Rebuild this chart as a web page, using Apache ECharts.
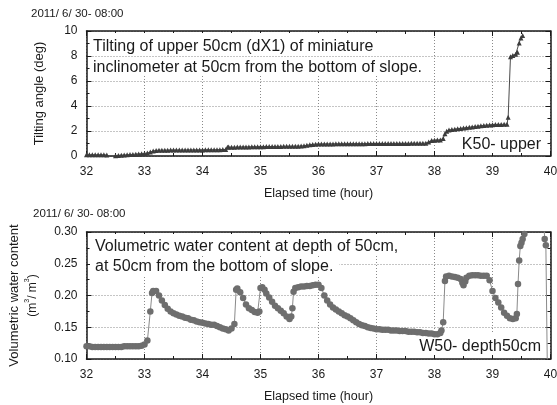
<!DOCTYPE html>
<html>
<head>
<meta charset="utf-8">
<script src="https://cdn.jsdelivr.net/npm/echarts@6/dist/echarts.min.js"></script>
<style>
  html, body { margin: 0; padding: 0; background: #fff; }
  #chart { width: 557px; height: 405px; }
</style>
</head>
<body>
<div id="chart"></div>
<script>
// elapsed hours since 2011/6/30 08:00
const timeRange = [32, 40]
const tiltRange = [0, 10]
const waterRange = [0.10, 0.30]
const startLabel = '2011/ 6/ 30- 08:00'

// tilting angle (deg), K50- upper
const k50Upper = [
  [32.00, 0.10], [32.05, 0.10], [32.10, 0.11], [32.15, 0.10], [32.20, 0.10], [32.25, 0.10], [32.30, 0.10], [32.35, 0.08],
  [32.40, -0.10], [32.45, -0.10],
  [32.50, 0.02], [32.55, 0.05], [32.60, 0.07], [32.65, 0.08], [32.70, 0.10], [32.75, 0.12], [32.80, 0.13], [32.85, 0.15],
  [32.90, 0.17], [32.95, 0.18], [33.00, 0.20], [33.05, 0.24], [33.10, 0.32], [33.15, 0.40], [33.20, 0.45], [33.25, 0.47],
  [33.30, 0.47], [33.35, 0.47], [33.40, 0.47], [33.45, 0.48], [33.50, 0.48], [33.55, 0.48], [33.60, 0.48], [33.65, 0.48],
  [33.70, 0.48], [33.75, 0.49], [33.80, 0.49], [33.85, 0.49], [33.90, 0.49], [33.95, 0.49], [34.00, 0.49], [34.05, 0.50],
  [34.10, 0.50], [34.15, 0.50], [34.20, 0.50], [34.25, 0.51], [34.30, 0.51], [34.35, 0.52], [34.40, 0.52],
  [34.43, 0.70], [34.45, 0.72], [34.50, 0.71], [34.55, 0.70], [34.60, 0.72], [34.65, 0.72], [34.70, 0.73], [34.75, 0.73],
  [34.80, 0.73], [34.85, 0.74], [34.90, 0.74], [34.95, 0.74], [35.00, 0.75], [35.05, 0.75], [35.10, 0.76], [35.15, 0.76],
  [35.20, 0.76], [35.25, 0.77], [35.30, 0.77], [35.35, 0.77], [35.40, 0.78], [35.45, 0.78], [35.50, 0.78], [35.55, 0.78],
  [35.60, 0.79], [35.65, 0.79], [35.70, 0.80], [35.75, 0.82], [35.80, 0.86], [35.85, 0.90], [35.90, 0.93], [35.95, 0.95],
  [36.00, 0.96], [36.05, 0.96], [36.10, 0.97], [36.15, 0.97], [36.20, 0.97], [36.25, 0.97], [36.30, 0.98], [36.35, 0.98],
  [36.40, 0.98], [36.45, 0.98], [36.50, 0.98], [36.55, 0.99], [36.60, 0.99], [36.65, 0.99], [36.70, 0.99], [36.75, 0.99],
  [36.80, 0.99], [36.85, 1.00], [36.90, 1.00], [36.95, 1.00], [37.00, 1.00], [37.05, 1.00], [37.10, 1.00], [37.15, 1.00],
  [37.20, 1.01], [37.25, 1.01], [37.30, 1.01], [37.35, 1.01], [37.40, 1.01], [37.45, 1.01], [37.50, 1.01], [37.55, 1.01],
  [37.60, 1.02], [37.65, 1.02], [37.70, 1.02], [37.75, 1.02], [37.80, 1.02], [37.85, 1.03],
  [37.90, 1.12], [37.95, 1.25], [38.00, 1.27], [38.05, 1.28], [38.10, 1.29], [38.15, 1.40], [38.18, 1.78], [38.21, 1.98],
  [38.25, 2.08], [38.30, 2.12], [38.35, 2.15], [38.40, 2.18], [38.45, 2.21], [38.50, 2.24], [38.55, 2.27], [38.60, 2.30],
  [38.65, 2.33], [38.70, 2.36], [38.75, 2.39], [38.80, 2.42], [38.85, 2.45], [38.90, 2.47], [38.95, 2.49], [39.00, 2.51],
  [39.05, 2.52], [39.10, 2.53], [39.15, 2.53], [39.20, 2.54], [39.25, 2.54],
  [39.27, 3.10], [39.31, 7.95], [39.35, 8.05], [39.40, 8.15], [39.43, 8.30], [39.46, 9.05], [39.49, 9.45], [39.52, 9.65]
]

// volumetric water content (m3/m3), W50- depth50cm
const w50Depth = [
  [32.00, 0.120], [32.05, 0.120], [32.10, 0.119], [32.15, 0.119], [32.20, 0.119], [32.25, 0.119], [32.30, 0.119],
  [32.35, 0.119], [32.40, 0.119], [32.45, 0.119], [32.50, 0.119], [32.55, 0.119], [32.60, 0.119], [32.65, 0.120],
  [32.70, 0.120], [32.75, 0.120], [32.80, 0.120], [32.85, 0.120], [32.90, 0.120], [32.95, 0.121], [33.00, 0.123],
  [33.05, 0.129], [33.10, 0.175], [33.13, 0.204], [33.15, 0.207], [33.20, 0.207], [33.25, 0.200], [33.30, 0.192],
  [33.35, 0.185], [33.40, 0.179], [33.45, 0.175], [33.50, 0.172], [33.55, 0.170], [33.60, 0.168], [33.65, 0.167],
  [33.70, 0.165], [33.75, 0.164], [33.80, 0.162], [33.85, 0.161], [33.90, 0.159], [33.95, 0.158], [34.00, 0.157],
  [34.05, 0.156], [34.10, 0.155], [34.15, 0.154], [34.20, 0.154], [34.25, 0.152], [34.30, 0.150], [34.35, 0.148],
  [34.40, 0.147], [34.45, 0.145], [34.50, 0.148], [34.55, 0.155],
  [34.58, 0.209], [34.60, 0.211], [34.65, 0.205], [34.70, 0.196], [34.75, 0.186], [34.80, 0.180], [34.85, 0.177],
  [34.90, 0.174], [34.95, 0.173], [34.98, 0.175],
  [35.00, 0.212], [35.03, 0.213], [35.07, 0.209], [35.10, 0.203], [35.15, 0.197], [35.20, 0.190], [35.25, 0.184],
  [35.30, 0.180], [35.35, 0.176], [35.40, 0.172], [35.45, 0.167], [35.50, 0.163], [35.53, 0.167], [35.55, 0.180],
  [35.57, 0.206], [35.60, 0.212], [35.65, 0.213], [35.70, 0.214], [35.75, 0.214], [35.80, 0.215], [35.85, 0.215],
  [35.90, 0.216], [35.95, 0.217], [36.00, 0.217], [36.05, 0.212], [36.10, 0.200], [36.15, 0.192], [36.20, 0.186],
  [36.25, 0.181], [36.30, 0.178], [36.35, 0.175], [36.40, 0.172], [36.45, 0.169], [36.50, 0.167], [36.55, 0.164],
  [36.60, 0.161], [36.65, 0.158], [36.70, 0.155], [36.75, 0.153], [36.80, 0.152], [36.85, 0.150], [36.90, 0.149],
  [36.95, 0.148], [37.00, 0.147], [37.05, 0.147], [37.10, 0.146], [37.15, 0.146], [37.20, 0.146], [37.25, 0.145],
  [37.30, 0.145], [37.35, 0.145], [37.40, 0.144], [37.45, 0.144], [37.50, 0.144], [37.55, 0.143], [37.60, 0.143],
  [37.65, 0.143], [37.70, 0.142], [37.75, 0.142], [37.80, 0.141], [37.85, 0.141], [37.90, 0.140], [37.95, 0.140],
  [38.00, 0.139], [38.05, 0.139], [38.10, 0.141], [38.12, 0.145], [38.15, 0.158],
  [38.18, 0.223], [38.20, 0.230], [38.25, 0.231], [38.30, 0.230], [38.35, 0.229], [38.40, 0.228], [38.45, 0.226],
  [38.48, 0.220], [38.50, 0.216], [38.53, 0.222], [38.55, 0.228], [38.60, 0.231], [38.65, 0.232], [38.70, 0.232],
  [38.75, 0.232], [38.80, 0.231], [38.85, 0.231], [38.90, 0.231], [38.95, 0.224], [39.00, 0.207], [39.05, 0.196],
  [39.10, 0.189], [39.15, 0.181], [39.20, 0.173], [39.25, 0.168], [39.30, 0.164], [39.35, 0.163], [39.40, 0.164],
  [39.42, 0.171], [39.44, 0.218], [39.46, 0.255], [39.48, 0.278], [39.50, 0.283], [39.52, 0.289], [39.55, 0.297],
  [39.58, 0.320], [39.88, 0.320], [39.90, 0.289], [39.92, 0.279], [39.95, 0.050]
]

const FONT = '"Liberation Sans", Arial, sans-serif'
const INK = '#1a1a1a'

const chart = echarts.init(document.getElementById('chart'), null, { renderer: 'canvas' })

function frameAxis(extra) {
  return Object.assign({
    type: 'value',
    axisLine: { show: true, onZero: false, lineStyle: { color: INK, width: 1.5 } },
    axisTick: { show: true, inside: true, length: 5, lineStyle: { color: INK } },
    minorTick: { show: true, splitNumber: 2, length: 3, lineStyle: { color: INK } },
    splitLine: { show: false },
    axisLabel: { show: false }
  }, extra)
}

const gridLine = { show: true, lineStyle: { color: '#8a8a8a', width: 1, type: [1, 2] } }
const tickLabel = { show: true, color: INK, fontFamily: FONT, fontSize: 12, showMinLabel: true, showMaxLabel: true }
const nameStyle = { color: INK, fontFamily: FONT, fontSize: 12.5 }

function xAxes(gi) {
  const range = { gridIndex: gi, min: timeRange[0], max: timeRange[1], interval: 1 }
  return [
    frameAxis(Object.assign({
      position: 'bottom', name: 'Elapsed time (hour)', nameLocation: 'middle', nameGap: 31,
      nameTextStyle: nameStyle,
      axisLabel: Object.assign({}, tickLabel, { margin: 10 }),
      splitLine: gridLine
    }, range)),
    frameAxis(Object.assign({ position: 'top' }, range))
  ]
}

// annotation lines sit on white boxes that hide the grid behind them
function note(text, pos, pad) {
  return Object.assign({
    type: 'text', z: 1,
    style: {
      text: text, fill: INK, font: '16px ' + FONT,
      backgroundColor: '#fff', padding: pad
    }
  }, pos)
}

const option = {
  animation: false,
  backgroundColor: '#fff',
  grid: [
    { left: 86.5, right: 6.5, top: 31, height: 125, outerBoundsMode: 'none' },
    { left: 86.5, right: 6.5, top: 232, height: 127, outerBoundsMode: 'none' }
  ],
  xAxis: xAxes(0).concat(xAxes(1)),
  yAxis: [
    frameAxis({
      gridIndex: 0, position: 'left', min: tiltRange[0], max: tiltRange[1], interval: 2,
      name: 'Tilting angle (deg)', nameLocation: 'middle', nameGap: 41,
      nameTextStyle: Object.assign({}, nameStyle, { fontSize: 13 }),
      axisLabel: Object.assign({}, tickLabel, { margin: 9 }),
      splitLine: gridLine
    }),
    frameAxis({ gridIndex: 0, position: 'right', min: tiltRange[0], max: tiltRange[1], interval: 2 }),
    frameAxis({
      gridIndex: 1, position: 'left', min: waterRange[0], max: waterRange[1], interval: 0.05,
      name: 'Volumetric water content\n{u|(m}{s|3}{u|/ m}{s|3}{u|)}', nameLocation: 'middle', nameGap: 45,
      nameTextStyle: Object.assign({}, nameStyle, {
        fontSize: 13, lineHeight: 18,
        rich: {
          u: { fontFamily: FONT, fontSize: 12, color: INK },
          s: { fontFamily: FONT, fontSize: 7, color: INK, verticalAlign: 'top' }
        }
      }),
      axisLabel: Object.assign({}, tickLabel, { margin: 9, formatter: v => v.toFixed(2) }),
      splitLine: gridLine
    }),
    frameAxis({ gridIndex: 1, position: 'right', min: waterRange[0], max: waterRange[1], interval: 0.05 })
  ],
  graphic: [
    { type: 'text', left: 31, top: 8, style: { text: startLabel, fill: INK, font: '11.5px ' + FONT } },
    { type: 'text', left: 33, top: 208, style: { text: startLabel, fill: INK, font: '11.5px ' + FONT } },
    note('Tilting of upper 50cm (dX1) of miniature', { left: 90, top: 33 }, [6, 6, 1, 3]),
    note('inclinometer at 50cm from the bottom of slope.', { left: 90, top: 58 }, [2, 6, 0, 3]),
    note('K50- upper', { right: 12, top: 132 }, [5, 4, 0, 6]),
    note('Volumetric water content at depth of 50cm,', { left: 90, top: 234 }, [5, 6, 1, 5]),
    note('at 50cm from the bottom of slope.', { left: 90, top: 258 }, [1, 6, 0, 5]),
    note('W50- depth50cm', { right: 12, top: 334 }, [5, 4, 0, 6])
  ],
  series: [
    {
      name: 'K50- upper', type: 'line', xAxisIndex: 0, yAxisIndex: 0,
      data: k50Upper, clip: true,
      symbol: 'triangle', symbolSize: 5,
      itemStyle: { color: '#3c3c3c' },
      lineStyle: { color: '#4a4a4a', width: 1 }
    },
    {
      name: 'W50- depth50cm', type: 'line', xAxisIndex: 2, yAxisIndex: 2,
      data: w50Depth, clip: true,
      symbol: 'circle', symbolSize: 6.5,
      itemStyle: { color: '#6e6e6e' },
      lineStyle: { color: '#8a8a8a', width: 1 }
    }
  ]
}

chart.setOption(option)
</script>
</body>
</html>
